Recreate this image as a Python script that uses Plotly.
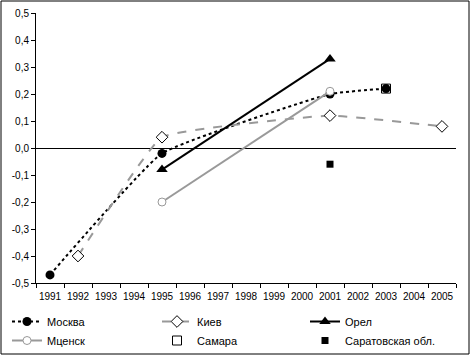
import plotly.graph_objects as go

years = [str(y) for y in range(1991, 2006)]

moskva_x = ["1991", "1995", "2001", "2003"]
moskva_y = [-0.47, -0.02, 0.20, 0.22]
kiev_x = ["1992", "1995", "2001", "2005"]
kiev_y = [-0.40, 0.04, 0.12, 0.08]
orel_x = ["1995", "2001"]
orel_y = [-0.08, 0.33]
mtsensk_x = ["1995", "2001"]
mtsensk_y = [-0.20, 0.21]
samara_x = ["2003"]
samara_y = [0.22]
saratov_x = ["2001"]
saratov_y = [-0.06]

y_ticks = [-0.5, -0.4, -0.3, -0.2, -0.1, 0.0, 0.1, 0.2, 0.3, 0.4, 0.5]
y_labels = ["-0,5", "-0,4", "-0,3", "-0,2", "-0,1", "0,0", "0,1", "0,2", "0,3", "0,4", "0,5"]

fig = go.Figure()
fig.add_trace(go.Scatter(x=moskva_x, y=moskva_y, name="Москва", mode="lines+markers", legend="legend",
                         line=dict(color="black", width=2, dash="dot", shape="spline", smoothing=0.35),
                         marker=dict(symbol="circle", size=9, color="black")))
fig.add_trace(go.Scatter(x=kiev_x, y=kiev_y, name="Киев", mode="lines+markers", legend="legend2",
                         line=dict(color="#999999", width=2, dash="dash", shape="spline", smoothing=0.3),
                         marker=dict(symbol="diamond", size=9, color="white", line=dict(color="black", width=1))))
fig.add_trace(go.Scatter(x=orel_x, y=orel_y, name="Орел", mode="lines+markers", legend="legend3",
                         line=dict(color="black", width=2),
                         marker=dict(symbol="triangle-up", size=10, color="black")))
fig.add_trace(go.Scatter(x=mtsensk_x, y=mtsensk_y, name="Мценск", mode="lines+markers", legend="legend",
                         line=dict(color="#999999", width=2),
                         marker=dict(symbol="circle", size=8, color="white", line=dict(color="#999999", width=1))))
fig.add_trace(go.Scatter(x=samara_x, y=samara_y, name="Самара", mode="markers", legend="legend2",
                         marker=dict(symbol="square", size=9, color="rgba(255,255,255,0)", line=dict(color="black", width=1))))
fig.add_trace(go.Scatter(x=saratov_x, y=saratov_y, name="Саратовская обл.", mode="markers", legend="legend3",
                         marker=dict(symbol="square", size=7, color="black")))

L, R, T, B = 36, 14, 13, 72
W, H = 470, 355
pw, ph = W - L - R, H - T - B


def leg(xpx):
    return dict(orientation="v", xref="container", yref="container",
                x=xpx / W, y=1 - 307 / H, xanchor="left", yanchor="top",
                font=dict(size=11), tracegroupgap=0, itemwidth=30,
                bgcolor="rgba(0,0,0,0)")


fig.update_layout(
    width=W, height=H,
    margin=dict(l=L, r=R, t=T, b=B, autoexpand=False),
    paper_bgcolor="white", plot_bgcolor="white",
    font=dict(family="Liberation Sans, Arial, sans-serif", size=10, color="black"),
    showlegend=True,
    legend=leg(7), legend2=leg(157), legend3=leg(305),
    xaxis=dict(type="category", categoryorder="array", categoryarray=years,
               range=[-0.5, 14.5], tickmode="array", tickvals=years, ticktext=years,
               tickson="boundaries", ticks="outside", ticklen=4, tickcolor="black",
               tickangle=0, automargin=False, ticklabelstandoff=4,
               showline=True, linecolor="black", linewidth=1, showgrid=False,
               tickfont=dict(size=10)),
    yaxis=dict(range=[-0.5, 0.5], tickvals=y_ticks, ticktext=y_labels,
               ticks="outside", ticklen=4, tickcolor="black", automargin=False,
               showline=True, linecolor="black", linewidth=1, showgrid=False,
               zeroline=True, zerolinecolor="black", zerolinewidth=1,
               tickfont=dict(size=10)),
    shapes=[dict(type="rect", xref="paper", yref="paper",
                 x0=(1 - L) / pw, x1=(W - 1 - L) / pw,
                 y0=-(H - 1 - T - ph) / ph, y1=1 + (T - 1) / ph,
                 line=dict(color="black", width=1), fillcolor="rgba(0,0,0,0)", layer="above")],
)

fig.write_html("out.html", config={"displayModeBar": False},
               post_script="document.body.style.margin='0';document.body.style.overflow='hidden';")
